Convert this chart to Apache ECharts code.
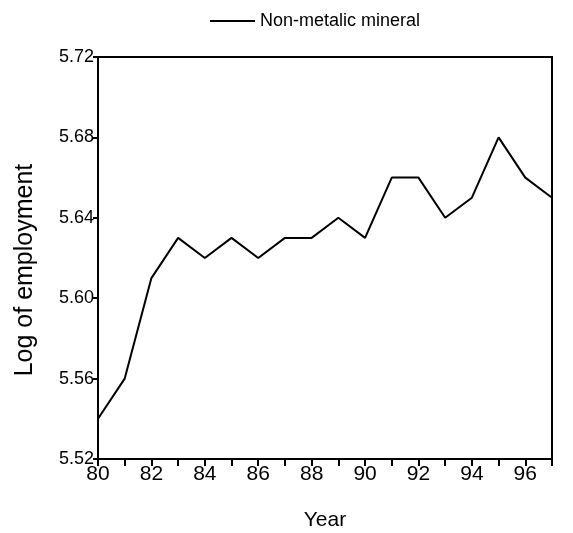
<!DOCTYPE html>
<html><head><meta charset="utf-8">
<script src="https://cdn.jsdelivr.net/npm/echarts@6/dist/echarts.min.js"></script>
<style>html,body{margin:0;padding:0;background:#fff}#c{width:573px;height:533px}</style>
</head><body><div id="c"></div>
<script>
var years = [80,81,82,83,84,85,86,87,88,89,90,91,92,93,94,95,96,97];
var employment = [5.54,5.56,5.61,5.63,5.62,5.63,5.62,5.63,5.63,5.64,5.63,5.66,5.66,5.64,5.65,5.68,5.66,5.65];
var seriesName = 'Non-metalic mineral';
var font = 'Liberation Sans, Arial, sans-serif';
var chart = echarts.init(document.getElementById('c'));
chart.setOption({
  animation: false,
  grid: {left: 98, right: 21, top: 57, bottom: 74, show: true, borderColor: '#000', borderWidth: 2,
    containLabel: false, outerBoundsMode: 'none'},
  legend: {
    data: [{name: seriesName, icon: 'rect'}], top: 7, left: 205,
    itemWidth: 45, itemHeight: 2, itemGap: 6,
    itemStyle: {color: '#000', borderWidth: 0},
    textStyle: {fontFamily: font, fontSize: 18, color: '#000'}
  },
  xAxis: {
    type: 'value', min: 80, max: 97, interval: 2,
    name: 'Year', nameLocation: 'middle', nameGap: 51,
    nameTextStyle: {fontFamily: font, fontSize: 21, color: '#000'},
    axisLine: {lineStyle: {color: '#000', width: 2}},
    axisTick: {length: 7, lineStyle: {color: '#000', width: 2}},
    minorTick: {show: true, splitNumber: 2, length: 7, lineStyle: {color: '#000', width: 2}},
    axisLabel: {fontFamily: font, fontSize: 21, color: '#000', margin: 5, showMaxLabel: false},
    splitLine: {show: false}
  },
  yAxis: {
    type: 'value', min: 5.52, max: 5.72, interval: 0.04,
    name: 'Log of employment', nameLocation: 'middle', nameGap: 60,
    nameTextStyle: {fontFamily: font, fontSize: 25, color: '#000', padding: [0, 24, 0, 0]},
    axisLine: {lineStyle: {color: '#000', width: 2}},
    axisTick: {length: 5, lineStyle: {color: '#000', width: 2}},
    axisLabel: {fontFamily: font, fontSize: 18, color: '#000', margin: 4,
      formatter: function (v) { return v.toFixed(2); }},
    splitLine: {show: false}
  },
  series: [{
    name: seriesName, type: 'line', symbol: 'none',
    lineStyle: {color: '#000', width: 2},
    itemStyle: {color: '#000'},
    data: years.map(function (y, i) { return [y, employment[i]]; })
  }]
});
</script></body></html>
